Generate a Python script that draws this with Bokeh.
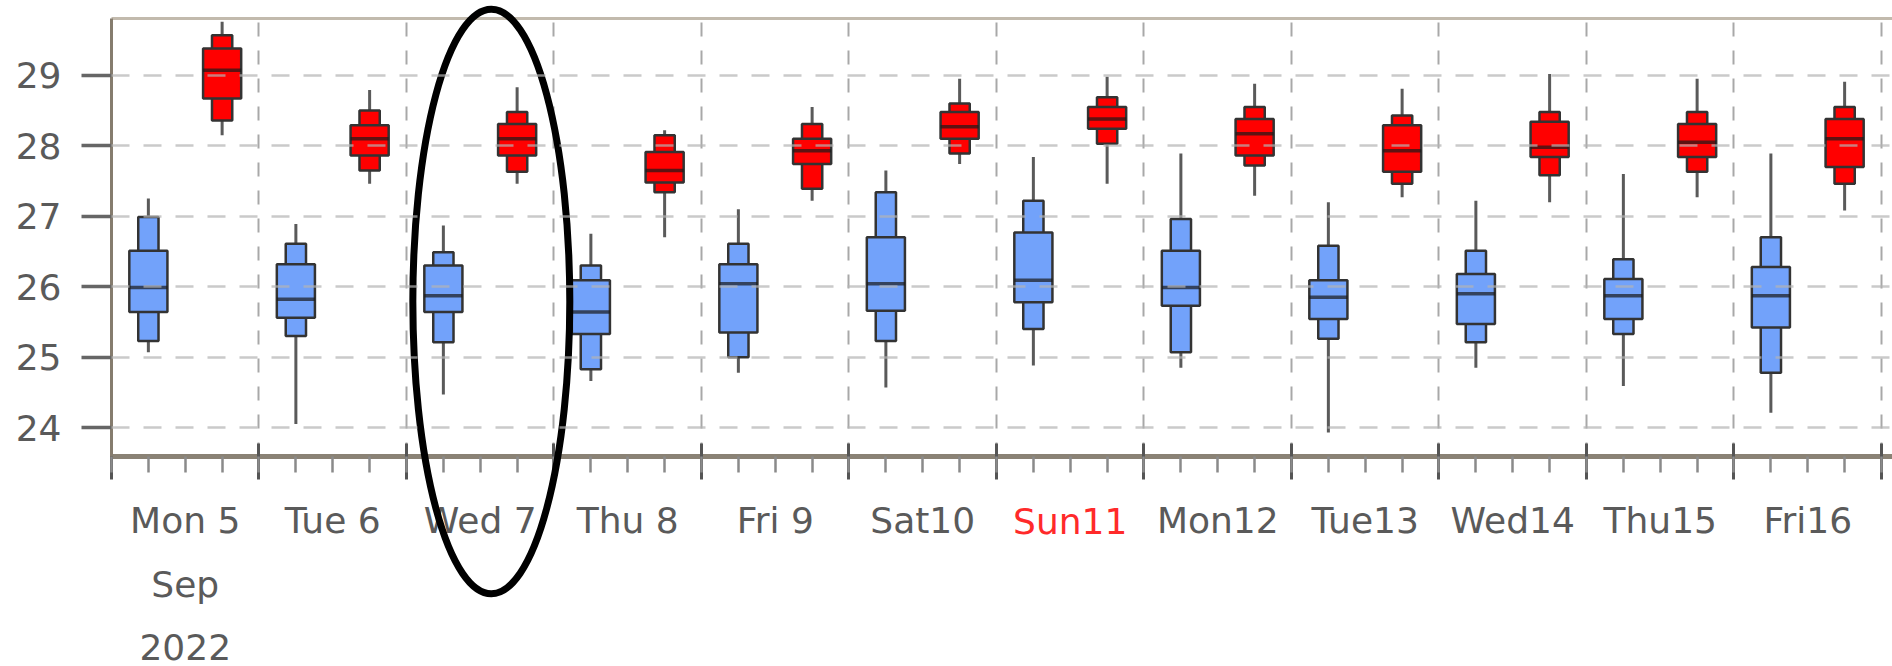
from datetime import datetime

from bokeh.plotting import figure
from bokeh.models import (ColumnDataSource, FixedTicker, LinearAxis, Grid, Range1d)
from bokeh.core.properties import value
from bokeh.embed import file_html
from bokeh.resources import INLINE

# ---------------- data ----------------
days = ["2022-09-05", "2022-09-06", "2022-09-07", "2022-09-08", "2022-09-09",
        "2022-09-10", "2022-09-11", "2022-09-12", "2022-09-13", "2022-09-14",
        "2022-09-15", "2022-09-16"]
day_labels = ["Mon 5", "Tue 6", "Wed 7", "Thu 8", "Fri 9", "Sat10", "Sun11",
              "Mon12", "Tue13", "Wed14", "Thu15", "Fri16"]
month_label = "Sep"
year_label = "2022"
weekend_label = "Sun11"
ytick_values = [24, 25, 26, 27, 28, 29]

# morning (06:00) distribution - blue
blue_min = [25.07, 24.05, 24.47, 24.66, 24.78, 24.57, 24.88, 24.85, 23.93, 24.85, 24.59, 24.21]
blue_p10 = [25.23, 25.30, 25.21, 24.83, 25.00, 25.23, 25.40, 25.07, 25.26, 25.21, 25.33, 24.78]
blue_q1 = [25.64, 25.56, 25.64, 25.33, 25.35, 25.66, 25.78, 25.73, 25.54, 25.47, 25.54, 25.42]
blue_med = [25.99, 25.82, 25.87, 25.64, 26.04, 26.04, 26.09, 25.99, 25.85, 25.90, 25.87, 25.87]
blue_q3 = [26.51, 26.32, 26.30, 26.09, 26.32, 26.70, 26.77, 26.51, 26.09, 26.18, 26.11, 26.28]
blue_p90 = [26.99, 26.61, 26.49, 26.30, 26.61, 27.34, 27.22, 26.96, 26.58, 26.51, 26.39, 26.70]
blue_max = [27.25, 26.89, 26.87, 26.75, 27.10, 27.65, 27.84, 27.89, 27.20, 27.22, 27.60, 27.89]

# evening (18:00) distribution - red
red_min = [28.15, 27.46, 27.46, 26.70, 27.22, 27.74, 27.46, 27.29, 27.27, 27.20, 27.27, 27.08]
red_p10 = [28.36, 27.65, 27.63, 27.34, 27.39, 27.89, 28.03, 27.72, 27.46, 27.58, 27.63, 27.46]
red_q1 = [28.67, 27.86, 27.86, 27.48, 27.74, 28.10, 28.24, 27.86, 27.63, 27.84, 27.84, 27.70]
red_med = [29.07, 28.10, 28.10, 27.65, 27.93, 28.27, 28.38, 28.17, 27.93, 27.98, 28.05, 28.10]
red_q3 = [29.38, 28.29, 28.31, 27.91, 28.10, 28.48, 28.55, 28.38, 28.29, 28.34, 28.31, 28.38]
red_p90 = [29.57, 28.50, 28.48, 28.15, 28.31, 28.60, 28.69, 28.55, 28.43, 28.48, 28.48, 28.55]
red_max = [29.76, 28.79, 28.83, 28.22, 28.55, 28.95, 28.98, 28.88, 28.81, 29.02, 28.95, 28.91]

# highlighted day (ellipse annotation)
highlight_day = "2022-09-07"

# ---------------- helpers ----------------
H = 3600 * 1000
DAY = 24 * H
EPOCH = datetime(1970, 1, 1)


def ms(d):
    return int((d - EPOCH).total_seconds() * 1000)


day_ms = [ms(datetime.strptime(d, "%Y-%m-%d")) for d in days]
blue_x = [t + 6 * H for t in day_ms]
red_x = [t + 18 * H for t in day_ms]
noon_x = [t + 12 * H for t in day_ms]
midnights = day_ms + [day_ms[-1] + DAY]
six_hourly = [midnights[0] + i * 6 * H for i in range(4 * len(days) + 1)]

GRAY_TXT = "#5a5a5a"
FONT = "DejaVu Sans"
Y0, Y1 = 23.59, 29.806
FRAME_H = 438
KY = (Y1 - Y0) / FRAME_H   # data units per pixel, for the label rows below the frame

p = figure(width=1892, height=666, output_backend="svg", toolbar_location=None,
           x_axis_type=None, y_axis_type=None,
           x_range=Range1d(day_ms[0], day_ms[-1] + DAY + int(1.79 * H)),
           y_range=Range1d(Y0, Y1),
           min_border_left=111, min_border_right=0, min_border_top=18,
           min_border_bottom=210, outline_line_color=None,
           background_fill_color="white", border_fill_color="white")

# grids
xgrid = Grid(dimension=0, ticker=FixedTicker(ticks=midnights),
             grid_line_color="#a8a8a8", grid_line_width=2, grid_line_dash="14 14")
ygrid = Grid(dimension=1, ticker=FixedTicker(ticks=ytick_values),
             grid_line_color="#b4b4b4", grid_line_alpha=0.7, grid_line_width=2.5,
             grid_line_dash="18 14", level="overlay")
p.add_layout(xgrid, "center")
p.add_layout(ygrid, "center")


def style_box(src, color):
    p.segment(x0="x", y0="lo", x1="x", y1="hi", source=src,
              line_color="#5a5a5a", line_width=3)
    p.vbar(x="x", bottom="p10", top="p90", width=3.3 * H, source=src,
           fill_color=color, line_color="#333333", line_width=2.5)
    p.vbar(x="x", bottom="q1", top="q3", width=6.2 * H, source=src,
           fill_color=color, line_color="#333333", line_width=2.5)
    p.vbar(x="x", bottom="med", top="med", width=6.2 * H, source=src,
           fill_color=None, line_color="#1a1a1a", line_alpha=0.7, line_width=3.5)


blue_src = ColumnDataSource(dict(x=blue_x, lo=blue_min, p10=blue_p10, q1=blue_q1,
                                 med=blue_med, q3=blue_q3, p90=blue_p90, hi=blue_max))
red_src = ColumnDataSource(dict(x=red_x, lo=red_min, p10=red_p10, q1=red_q1,
                                med=red_med, q3=red_q3, p90=red_p90, hi=red_max))
style_box(blue_src, "#72a2fa")
style_box(red_src, "#ff0000")

# axes
top_axis = LinearAxis(ticker=FixedTicker(ticks=[]), axis_line_color="#c2baad",
                      axis_line_width=3, major_tick_in=0, major_tick_out=0,
                      minor_tick_in=0, minor_tick_out=0,
                      major_label_text_color=None, major_label_standoff=0)
p.add_layout(top_axis, "above")

left_axis = LinearAxis(ticker=FixedTicker(ticks=ytick_values, minor_ticks=[]),
                       axis_line_color="#857c6e", axis_line_width=3,
                       major_tick_in=0, major_tick_out=30, major_tick_line_width=3.5,
                       major_tick_line_color="#666666", minor_tick_line_color=None,
                       major_label_standoff=20, major_label_text_font=FONT,
                       major_label_text_font_size="36px",
                       major_label_text_color=GRAY_TXT)
p.add_layout(left_axis, "left")

tick_axis = LinearAxis(ticker=FixedTicker(ticks=midnights, minor_ticks=six_hourly),
                       axis_line_color="#8a8275", axis_line_width=5,
                       major_tick_in=13, major_tick_out=23, major_tick_line_width=3,
                       major_tick_line_color="#555555",
                       minor_tick_in=0, minor_tick_out=16, minor_tick_line_width=2.5,
                       minor_tick_line_color="#8a8a8a",
                       major_label_text_color=None, major_label_text_font_size="0px",
                       major_label_standoff=0)
p.add_layout(tick_axis, "below")

sun_i = day_labels.index(weekend_label)
grey_ticks = [t for i, t in enumerate(noon_x) if i != sun_i]
overrides = {t: lab for t, lab in zip(noon_x, day_labels) if lab != weekend_label}
label_axis = LinearAxis(ticker=FixedTicker(ticks=grey_ticks, minor_ticks=[]),
                        axis_line_color=None, major_tick_line_color=None,
                        minor_tick_line_color=None, major_tick_in=0, major_tick_out=0,
                        major_label_standoff=20, major_label_text_font=FONT,
                        major_label_text_font_size="36px",
                        major_label_text_color=GRAY_TXT,
                        major_label_overrides=overrides)
p.add_layout(label_axis, "below")

# red weekend label, month and year lines (below the frame, unclipped overlay text)
extra_src = ColumnDataSource(dict(
    x=[noon_x[sun_i], noon_x[0], noon_x[0]],
    y=[Y0 - 64.5 * KY, Y0 - 128 * KY, Y0 - 190 * KY],
    text=[weekend_label, month_label, year_label],
    color=["#ff2a2a", GRAY_TXT, GRAY_TXT]))
p.text(x="x", y="y", text="text", source=extra_src, text_color="color",
       text_font=value(FONT), text_font_size="36px", text_align="center",
       text_baseline="alphabetic", level="overlay")

# ellipse highlighting one day
hi_i = days.index(highlight_day)
p.ellipse(x=[day_ms[hi_i] + 13.8 * H], y=[25.79], width=1.064 * DAY, height=8.30,
          fill_color=None, line_color="black", line_width=7, level="overlay")

open("out.html", "w").write(file_html(p, INLINE))
